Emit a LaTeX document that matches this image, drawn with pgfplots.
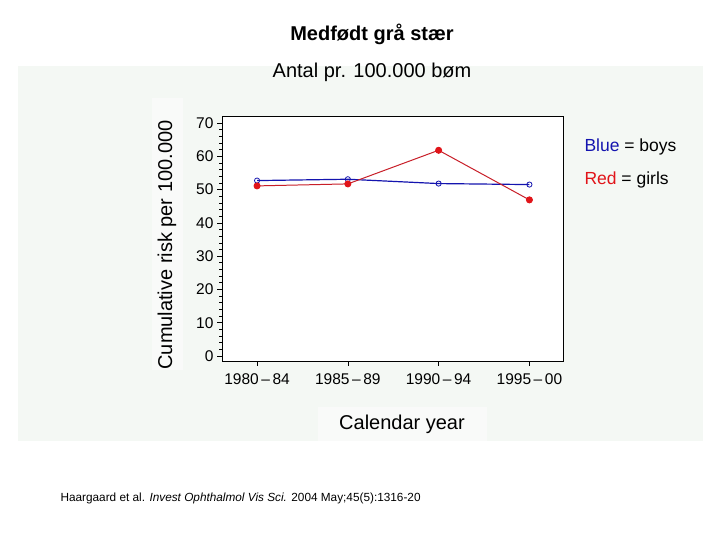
\documentclass[border=0pt]{standalone}
\usepackage{pgfplots}
\pgfplotsset{compat=1.18}
\usepackage{fontspec}
\setmainfont{Liberation Sans}
\definecolor{panel}{RGB}{244,248,244}
\definecolor{boxbg}{RGB}{249,250,249}
\definecolor{boys}{RGB}{20,20,175}
\definecolor{girls}{RGB}{225,20,25}
\definecolor{girlsline}{RGB}{200,30,40}
\begin{document}
\begin{tikzpicture}[x=1bp,y=1bp]
  \fill[white] (0,0) rectangle (720,540);
  \fill[panel] (18,99) rectangle (703,474);
  \fill[boxbg] (318,99) rectangle (487,133);
  \fill[boxbg] (152,170) rectangle (183,442);
  \node[font=\bfseries\fontsize{20bp}{22bp}\selectfont] at (372,506) {Medfødt grå stær};
  \node[font=\fontsize{20bp}{22bp}\selectfont] at (372,468) {Antal pr. 100.000 bøm};
  \node[font=\fontsize{20bp}{22bp}\selectfont, rotate=90] at (167,295) {Cumulative risk per 100.000};
  \node[font=\fontsize{20bp}{22bp}\selectfont] at (402,116) {Calendar year};
  \node[font=\fontsize{17.5bp}{19bp}\selectfont, anchor=west] at (581,393) {\textcolor{boys}{Blue} = boys};
  \node[font=\fontsize{17.5bp}{19bp}\selectfont, anchor=west] at (581,360) {\textcolor{girls}{Red} = girls};
  \node[font=\fontsize{11.8bp}{14bp}\selectfont, anchor=west] at (57,42)
    {Haargaard et al. \textit{Invest Ophthalmol Vis Sci.} 2004 May;45(5):1316-20};
  \begin{axis}[
      at={(222bp,179bp)}, anchor=south west,
      width=341bp, height=245bp, scale only axis,
      xmin=-0.386, xmax=3.37,
      ymin=-1.5, ymax=72.1,
      xtick={0,1,2,3},
      xticklabels={1980\,–\,84,1985\,–\,89,1990\,–\,94,1995\,–\,00},
      ytick={0,10,...,70},
      minor y tick num=4,
      tick align=outside,
      major tick length=5bp, minor tick length=3bp,
      xtick pos=bottom, ytick pos=left,
      tick style={black, line width=0.6pt},
      axis line style={black, line width=0.6pt},
      ticklabel style={font=\fontsize{15.5bp}{17bp}\selectfont},
      xticklabel style={yshift=-4bp},
      /pgf/number format/assume math mode=true,
      axis background/.style={fill=white},
    ]
    % boys
    \addplot[boys, line width=1.2pt, mark=o, mark size=2.6pt, mark options={line width=0.8pt}]
      coordinates {(0,52.7) (1,53.1) (2,51.8) (3,51.5)};
    % girls
    \addplot[girlsline, line width=1pt, mark=*, mark size=3pt, mark options={fill=girls, draw=girls}]
      coordinates {(0,51.1) (1,51.7) (2,61.8) (3,46.9)};
  \end{axis}
\end{tikzpicture}
\end{document}
